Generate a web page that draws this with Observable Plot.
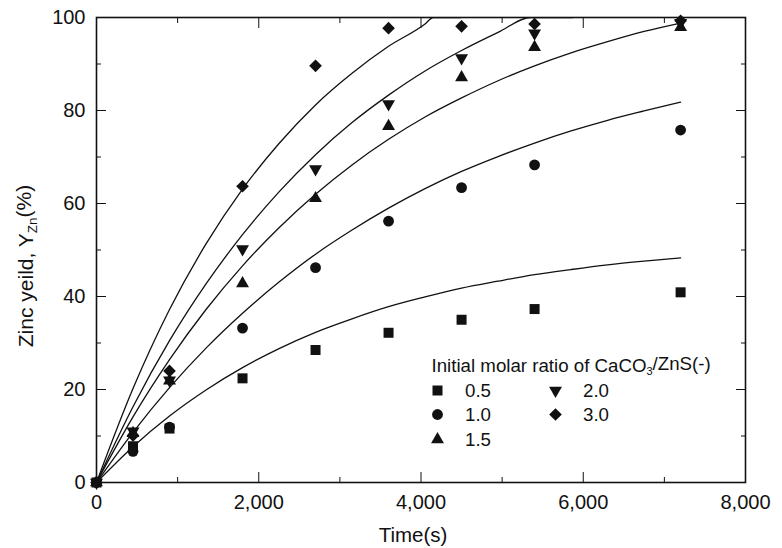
<!DOCTYPE html>
<html><head><meta charset="utf-8">
<script src="https://cdn.jsdelivr.net/npm/d3@7"></script>
<script src="https://cdn.jsdelivr.net/npm/@observablehq/plot@0.6"></script>
<style>
body{margin:0;background:#fff;}
svg{font-family:"Liberation Sans",Arial,sans-serif;}
</style>
</head><body><div id="chart"></div>
<script>
// ---- data ----
const ratios = ["0.5", "1.0", "1.5", "2.0", "3.0"];
const times = [0, 450, 900, 1800, 2700, 3600, 4500, 5400, 7200];
const yield05 = [0, 7.8, 11.6, 22.4, 28.5, 32.2, 35.0, 37.3, 40.9];
const yield10 = [0, 6.7, 11.9, 33.2, 46.2, 56.2, 63.4, 68.3, 75.8];
const yield15 = [0, 10.6, 21.9, 42.8, 61.1, 76.6, 87.1, 93.6, 97.9];
const yield20 = [0, 11.0, 22.0, 50.2, 67.4, 81.4, 91.3, 96.6, 98.9];
const yield30 = [0, 10.1, 24.0, 63.7, 89.6, 97.7, 98.1, 98.6, 99.3];

const fitTimes = [0, 450, 900, 1350, 1800, 2250, 2700, 3150, 3600, 4050, 4500, 4950, 5400, 5850, 6300, 6750, 7200];
const fit05 = [0, 7.7, 14.3, 19.9, 24.7, 28.8, 32.3, 35.2, 37.8, 39.9, 41.8, 43.3, 44.7, 45.8, 46.8, 47.6, 48.3];
const fit10 = [0, 10.8, 20.4, 28.9, 36.4, 43.1, 49.1, 54.3, 59.0, 63.2, 66.9, 70.1, 73.0, 75.6, 77.9, 79.9, 81.8];
const fit15 = [0, 14.1, 26.4, 37.2, 46.6, 54.8, 62.0, 68.3, 73.8, 78.6, 82.7, 86.4, 89.6, 92.4, 94.8, 97.0, 98.8];
const fitTimes20 = [0, 450, 900, 1350, 1800, 2250, 2700, 3150, 3600, 4050, 4500, 4950, 5350, 5870];
const fit20 = [0, 16.3, 30.5, 42.7, 53.3, 62.5, 70.5, 77.4, 83.3, 88.5, 92.9, 96.8, 100, 100];
const fitTimes30 = [0, 450, 900, 1350, 1800, 2250, 2700, 3150, 3600, 4050, 4150, 4490];
const fit30 = [0, 20.2, 37.2, 51.3, 63.1, 72.9, 81.2, 88.0, 93.8, 98.6, 100, 100];

const xMajor = [0, 2000, 4000, 6000, 8000];
const xMinor = [1000, 3000, 5000, 7000];
const yMajor = [0, 20, 40, 60, 80, 100];
const yMinor = [10, 30, 50, 70, 90];

// ---- build ----
const s3 = Math.sqrt(3);
const triangleDown = {draw(ctx, size) {
  const y = -Math.sqrt(size / (s3 * 3));
  ctx.moveTo(0, -y * 2); ctx.lineTo(-s3 * y, y); ctx.lineTo(s3 * y, y); ctx.closePath();
}};
const symbols = [d3.symbolSquare, d3.symbolCircle, d3.symbolTriangle, triangleDown, d3.symbolDiamond2];
const radii = [5.64, 5.4, 4.8, 4.8, 5.7];
const pointSeries = [yield05, yield10, yield15, yield20, yield30];
const fitSeries = [[fitTimes, fit05], [fitTimes, fit10], [fitTimes, fit15], [fitTimes20, fit20], [fitTimes30, fit30]];

const ink = "#111";
const lineMarks = fitSeries.map(([ts, vs]) =>
  Plot.line(ts.map((t, i) => ({t, v: vs[i]})), {x: "t", y: "v", curve: "monotone-x", stroke: ink, strokeWidth: 1.3, clip: true}));
const dotMarks = pointSeries.map((vs, k) =>
  Plot.dot(times.map((t, i) => ({t, v: vs[i]})), {x: "t", y: "v", symbol: symbols[k], r: radii[k], fill: ink, stroke: "none"}));

const fmt = d3.format(",");
const chart = Plot.plot({
  width: 782, height: 548,
  marginLeft: 96, marginRight: 37, marginTop: 17, marginBottom: 66,
  style: {fontSize: "20px", fontFamily: "Liberation Sans, Arial, sans-serif", background: "#fff", color: ink},
  x: {domain: [0, 8000]},
  y: {domain: [0, 100]},
  marks: [
    Plot.axisX({ticks: xMajor, tickSize: -10, fill: "none", label: null}),
    Plot.axisX({ticks: xMinor, tickSize: -5, fill: "none", label: null}),
    Plot.axisX({anchor: "top", ticks: xMajor, tickSize: -10, fill: "none", label: null}),
    Plot.axisX({anchor: "top", ticks: xMinor, tickSize: -5, fill: "none", label: null}),
    Plot.axisX({ticks: xMajor, tickSize: 0, tickPadding: 12.5, tickFormat: fmt, label: null}),
    Plot.axisY({ticks: yMajor, tickSize: -10, fill: "none", label: null}),
    Plot.axisY({ticks: yMinor, tickSize: -5, fill: "none", label: null}),
    Plot.axisY({anchor: "right", ticks: yMajor, tickSize: -10, fill: "none", label: null}),
    Plot.axisY({anchor: "right", ticks: yMinor, tickSize: -5, fill: "none", label: null}),
    Plot.axisY({ticks: yMajor, tickSize: 0, tickPadding: 11, label: null}),
    ...lineMarks,
    ...dotMarks,
    Plot.frame({stroke: ink, strokeWidth: 1.6})
  ]
});
document.getElementById("chart").appendChild(chart);

// ---- axis titles and legend (text with subscripts) ----
const svg = d3.select(chart);
svg.append("text").attr("x", 413).attr("y", 541.5).attr("text-anchor", "middle")
  .attr("fill", ink).style("font-size", "20.5px").text("Time(s)");
const yt = svg.append("text").attr("transform", "translate(33,266) rotate(-90)").attr("text-anchor", "middle")
  .attr("fill", ink).style("font-size", "21px");
yt.append("tspan").text("Zinc yeild, Y");
yt.append("tspan").attr("dy", "0.3em").style("font-size", "13.5px").text("Zn");
yt.append("tspan").attr("dy", "-0.3em").text("(%)");

const lg = svg.append("g").attr("fill", ink).attr("text-anchor", "start").style("font-size", "18.7px");
const lt = lg.append("text").attr("x", 431.5).attr("y", 372);
lt.append("tspan").text("Initial molar ratio of CaCO");
lt.append("tspan").attr("dy", "0.3em").style("font-size", "11px").text("3");
lt.append("tspan").attr("dy", "-0.3em").text("/ZnS(-)");
const legendPos = [[437.5, 390.5], [437.5, 414.5], [437.5, 439.5], [555.5, 390.5], [555.5, 414.5]];
ratios.forEach((name, k) => {
  const [cx, cy] = legendPos[k];
  lg.append("path").attr("transform", `translate(${cx},${cy})`)
    .attr("d", d3.symbol(symbols[k], radii[k] * radii[k] * Math.PI)());
  lg.append("text").attr("x", cx + 27.5).attr("y", cy + 6.8).text(name);
});
</script>
</body></html>
